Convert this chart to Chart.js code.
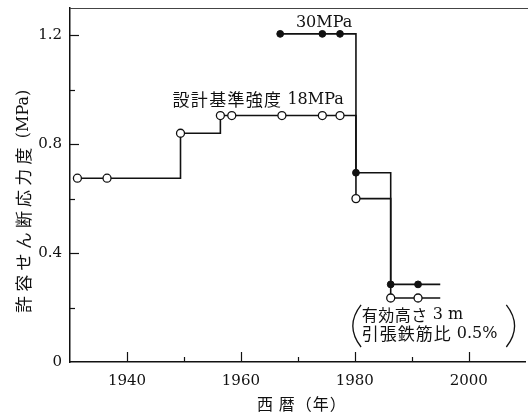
<!DOCTYPE html>
<html>
<head>
<meta charset="utf-8">
<script src="https://cdn.jsdelivr.net/npm/chart.js@4/dist/chart.umd.min.js"></script>
<style>
  html, body { margin: 0; padding: 0; background: #fff; overflow: hidden; }
</style>
</head>
<body>
<canvas id="chart" width="531" height="414"></canvas>
<script>
"use strict";

// 設計基準強度 18MPa (open circles)
const years18 = [1931.3, 1936.5, 1949.4, 1956.4, 1958.4, 1967.2, 1974.3, 1977.4, 1980.2, 1986.3, 1991.1, 1995];
const stress18 = [0.675, 0.675, 0.84, 0.905, 0.905, 0.905, 0.905, 0.905, 0.60, 0.235, 0.235, 0.235];
const marks18 = [1, 1, 1, 1, 1, 1, 1, 1, 1, 1, 1, 0];

// 30MPa (filled circles)
const years30 = [1966.9, 1974.3, 1977.4, 1980.2, 1986.3, 1991.1, 1995];
const stress30 = [1.205, 1.205, 1.205, 0.695, 0.285, 0.285, 0.285];
const marks30 = [1, 1, 1, 1, 1, 1, 0];

const xTicks = [1940, 1960, 1980, 2000];
const yTicks = [0, 0.4, 0.8, 1.2];

const SERIF = "'DejaVu Serif', 'Liberation Serif', serif";
const CJK = "'Noto Sans CJK JP', 'Noto Sans CJK SC', sans-serif";
const INK = "#111";

function toPoints(xs, ys) {
  const pts = [];
  for (let i = 0; i < xs.length; i++) {
    pts.push({ x: xs[i], y: ys[i] });
  }
  return pts;
}

function runsWidth(ctx, runs) {
  let w = 0;
  for (const r of runs) {
    ctx.font = r.font;
    ctx.letterSpacing = (r.ls || 0) + "px";
    w += ctx.measureText(r.t).width;
  }
  ctx.letterSpacing = "0px";
  return w;
}

function drawRuns(ctx, runs, x, y, align) {
  let cx = x;
  if (align === "center") cx = x - runsWidth(ctx, runs) / 2;
  ctx.textAlign = "left";
  ctx.textBaseline = "middle";
  for (const r of runs) {
    ctx.font = r.font;
    ctx.letterSpacing = (r.ls || 0) + "px";
    ctx.fillText(r.t, cx, y);
    cx += ctx.measureText(r.t).width;
  }
  ctx.letterSpacing = "0px";
}

// keep the plot box fixed: no extra room for edge tick labels
function fixBox(s) {
  if (s.isHorizontal()) {
    s.height = 52;
  } else {
    s.width = 70;
  }
  s.paddingTop = 0;
  s.paddingBottom = 0;
  s.paddingLeft = 0;
  s.paddingRight = 0;
}

const decorPlugin = {
  id: "decor",
  afterDraw(chart) {
    const ctx = chart.ctx;
    const xs = chart.scales.x;
    const ys = chart.scales.y;
    const area = chart.chartArea;
    const px = (v) => xs.getPixelForValue(v);
    const py = (v) => ys.getPixelForValue(v);

    ctx.save();
    ctx.strokeStyle = INK;
    ctx.fillStyle = INK;

    // top frame line
    ctx.lineWidth = 1;
    ctx.strokeStyle = "#444";
    ctx.beginPath();
    ctx.moveTo(area.left, area.top + 0.5);
    ctx.lineTo(chart.width, area.top + 0.5);
    ctx.stroke();

    // inward ticks
    ctx.strokeStyle = INK;
    ctx.lineWidth = 1.2;
    xs.ticks.forEach((t) => {
      if (t.value <= xs.min || t.value >= xs.max) return;
      const len = xTicks.includes(t.value) ? 10 : 5;
      const x = Math.round(px(t.value)) + 0.5;
      ctx.beginPath();
      ctx.moveTo(x, area.bottom);
      ctx.lineTo(x, area.bottom - len);
      ctx.stroke();
    });
    ys.ticks.forEach((t) => {
      if (t.value <= ys.min) return;
      const k = Math.round(t.value * 10);
      const len = k % 4 === 0 ? 9 : 5;
      const y = Math.round(py(t.value)) + 0.5;
      ctx.beginPath();
      ctx.moveTo(area.left, y);
      ctx.lineTo(area.left + len, y);
      ctx.stroke();
    });

    // labels in the plot
    drawRuns(ctx, [{ t: "30MPa", font: "16px " + SERIF }], px(1974.6), py(1.247), "center");
    drawRuns(ctx, [
      { t: "設計基準強度", font: "17px " + CJK, ls: 1.3 },
      { t: " 18MPa", font: "16px " + SERIF }
    ], px(1948.0), py(0.963), "left");

    drawRuns(ctx, [
      { t: "有効高さ", font: "16px " + CJK, ls: 0.5 },
      { t: " 3 m", font: "16px " + SERIF }
    ], px(1981.2), py(0.174), "left");
    drawRuns(ctx, [
      { t: "引張鉄筋比", font: "17px " + CJK, ls: 1 },
      { t: " 0.5%", font: "16px " + SERIF }
    ], px(1981.2), py(0.103), "left");

    // big parentheses around the note
    const top = py(0.21);
    const bot = py(0.055);
    const mid = (top + bot) / 2;
    ctx.lineWidth = 1.3;
    ctx.beginPath();
    ctx.moveTo(px(1981.1), top);
    ctx.quadraticCurveTo(px(1978.2), mid, px(1981.1), bot);
    ctx.stroke();
    ctx.beginPath();
    ctx.moveTo(px(2006.6), top);
    ctx.quadraticCurveTo(px(2009.5), mid, px(2006.6), bot);
    ctx.stroke();

    // axis titles
    drawRuns(ctx, [{ t: "西 暦（年）", font: "16px " + CJK, ls: 1 }], (area.left + area.right) / 2 + 4, area.bottom + 42, "center");

    ctx.save();
    ctx.translate(area.left - 46, py(0.59));
    ctx.rotate(-Math.PI / 2);
    drawRuns(ctx, [
      { t: "許容せん断応力度", font: "17px " + CJK, ls: 4.2 },
      { t: " (MPa)", font: "16px " + SERIF }
    ], 0, 0, "center");
    ctx.restore();

    ctx.restore();
  }
};

const data = {
  datasets: [
    {
      label: "30MPa",
      data: toPoints(years30, stress30),
      stepped: "before",
      borderColor: INK,
      borderWidth: 1.6,
      pointRadius: marks30.map((m) => (m ? 3.4 : 0)),
      pointBackgroundColor: INK,
      pointBorderColor: INK,
      pointBorderWidth: 1
    },
    {
      label: "18MPa",
      data: toPoints(years18, stress18),
      stepped: "before",
      borderColor: INK,
      borderWidth: 1.6,
      pointRadius: marks18.map((m) => (m ? 4 : 0)),
      pointBackgroundColor: "#fff",
      pointBorderColor: INK,
      pointBorderWidth: 1.3
    }
  ]
};

const config = {
  type: "line",
  data: data,
  options: {
    responsive: false,
    animation: false,
    layout: { padding: { top: 8, right: 0, left: 0, bottom: 0 } },
    plugins: {
      legend: { display: false },
      tooltip: { enabled: false }
    },
    scales: {
      x: {
        type: "linear",
        min: 1930,
        max: 2010,
        grid: { drawOnChartArea: false, drawTicks: false },
        border: { color: INK, width: 1.5 },
        ticks: {
          stepSize: 10,
          autoSkip: false,
          maxRotation: 0,
          includeBounds: false,
          padding: 10,
          color: INK,
          font: { family: SERIF, size: 15 },
          callback: (v) => (xTicks.includes(v) ? String(v) : "")
        },
        afterFit: fixBox
      },
      y: {
        min: 0,
        max: 1.3,
        grid: { drawOnChartArea: false, drawTicks: false },
        border: { color: INK, width: 1.5 },
        ticks: {
          stepSize: 0.2,
          autoSkip: false,
          includeBounds: false,
          padding: 8,
          color: INK,
          font: { family: SERIF, size: 15 },
          callback: (v) => {
            const hit = yTicks.find((t) => Math.abs(t - v) < 1e-6);
            if (hit === undefined) return "";
            return hit === 0 ? "0" : hit.toFixed(1);
          }
        },
        afterFit: fixBox
      }
    }
  },
  plugins: [decorPlugin]
};

const myChart = new Chart(document.getElementById("chart"), config);
</script>
</body>
</html>
